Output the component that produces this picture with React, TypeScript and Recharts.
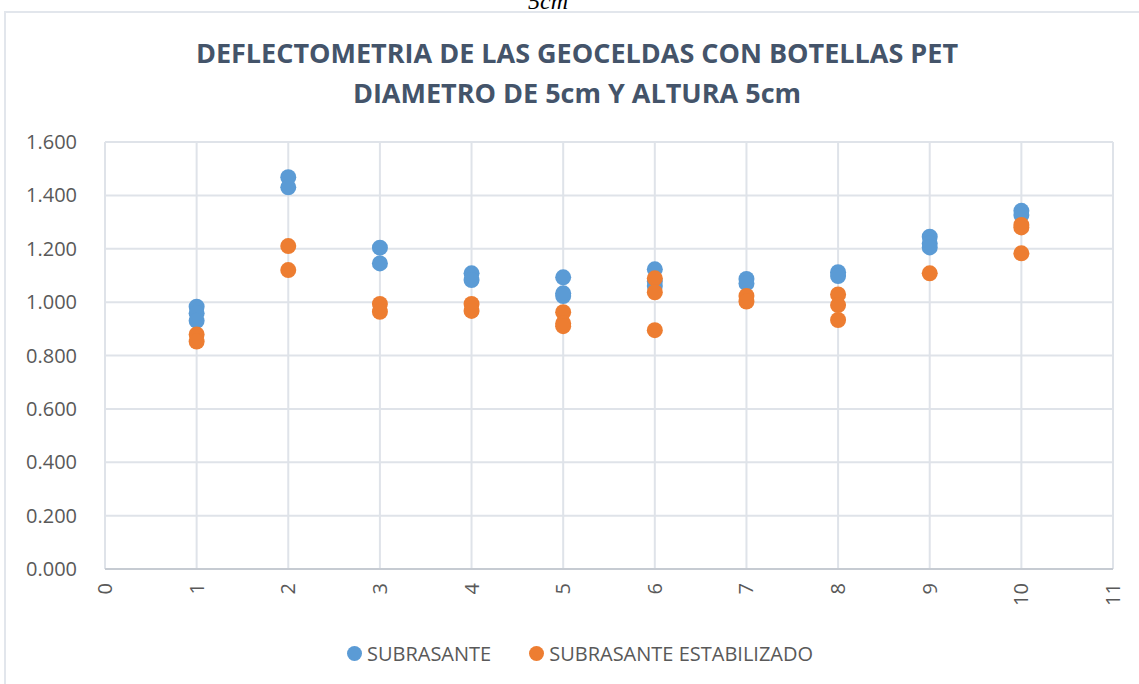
import { ScatterChart, Scatter, XAxis, YAxis, CartesianGrid } from 'recharts'

// ensayo (punto) y deflexion
const subrasanteX = [1, 1, 1, 2, 2, 3, 3, 4, 4, 5, 5, 5, 6, 6, 6, 7, 7, 8, 8, 9, 9, 9, 10, 10]
const subrasanteY = [
  0.983, 0.958, 0.93, 1.468, 1.43, 1.204, 1.145, 1.108, 1.083, 1.093, 1.033, 1.023,
  1.123, 1.077, 1.06, 1.087, 1.07, 1.112, 1.098, 1.245, 1.22, 1.205, 1.342, 1.326,
]

const estabilizadoX = [1, 1, 2, 2, 3, 3, 4, 4, 5, 5, 5, 6, 6, 6, 7, 7, 8, 8, 8, 9, 10, 10, 10]
const estabilizadoY = [
  0.879, 0.852, 1.21, 1.12, 0.993, 0.964, 0.993, 0.967, 0.962, 0.92, 0.91,
  1.089, 1.037, 0.895, 1.023, 1.002, 1.029, 0.989, 0.933, 1.108, 1.289, 1.28, 1.183,
]

const xTicks = [0, 1, 2, 3, 4, 5, 6, 7, 8, 9, 10, 11]
const yTicks = [0, 0.2, 0.4, 0.6, 0.8, 1.0, 1.2, 1.4, 1.6]

const BLUE = '#5B9BD5'
const ORANGE = '#ED7D31'
const FONT = "'Liberation Sans Narrow', 'Open Sans', sans-serif"

const subrasante = subrasanteX.map((x, i) => ({ x, y: subrasanteY[i] }))
const estabilizado = estabilizadoX.map((x, i) => ({ x, y: estabilizadoY[i] }))

// eslint-disable-next-line @typescript-eslint/no-explicit-any
function RotatedTick(props: any) {
  const { x, y, payload } = props
  return (
    <text
      x={x}
      y={y + 6}
      transform={`rotate(-90, ${x}, ${y + 6})`}
      textAnchor="end"
      dy="0.35em"
      fill="#595959"
      fontSize={20}
      fontFamily={FONT}
    >
      {payload.value}
    </text>
  )
}

// eslint-disable-next-line @typescript-eslint/no-explicit-any
function Dot(props: any) {
  const { cx, cy, fill } = props
  return <circle cx={cx} cy={cy} r={8} fill={fill} />
}

export default function App() {
  return (
    <div style={{ position: 'absolute', left: 0, top: 0, width: 1139, height: 684, background: '#fff', overflow: 'hidden' }}>
      {/* caption of the document above, cut by the page edge */}
      <div
        style={{
          position: 'absolute', left: 0, width: 1096, top: -12, textAlign: 'center',
          fontFamily: "'Liberation Serif', serif", fontStyle: 'italic', fontSize: 24, color: '#000',
        }}
      >
        5cm
      </div>
      {/* chart frame */}
      <div
        style={{
          position: 'absolute', left: 4, top: 11, width: 1160, height: 700,
          border: '2px solid #e2e6ec', boxSizing: 'border-box',
        }}
      />
      <div
        style={{
          position: 'absolute', left: 0, width: 1154, top: 33, textAlign: 'center',
          fontFamily: FONT, fontWeight: 'bold', fontSize: 27, lineHeight: '40px', color: '#44546A',
        }}
      >
        DEFLECTOMETRIA DE LAS GEOCELDAS CON BOTELLAS PET
        <br />
        DIAMETRO DE 5cm Y ALTURA 5cm
      </div>
      <div style={{ position: 'absolute', left: 0, top: 0 }}>
        <ScatterChart width={1139} height={684} margin={{ top: 142, right: 26, bottom: 0, left: 10 }}>
          <CartesianGrid stroke="#dfe3e9" strokeWidth={2} horizontal vertical />
          <XAxis
            type="number"
            dataKey="x"
            domain={[0, 11]}
            ticks={xTicks}
            interval={0}
            height={115}
            stroke="#c6cbd2"
            strokeWidth={2}
            tickLine={false}
            tick={<RotatedTick />}
          />
          <YAxis
            type="number"
            dataKey="y"
            domain={[0, 1.6]}
            ticks={yTicks}
            interval={0}
            width={95}
            axisLine={false}
            tickLine={false}
            tickMargin={22}
            tickFormatter={(v: number) => v.toFixed(3)}
            tick={{ fill: '#595959', fontSize: 20, fontFamily: FONT }}
          />
          <Scatter name="SUBRASANTE" data={subrasante} fill={BLUE} shape={<Dot />} isAnimationActive={false} />
          <Scatter name="SUBRASANTE ESTABILIZADO" data={estabilizado} fill={ORANGE} shape={<Dot />} isAnimationActive={false} />
        </ScatterChart>
      </div>
      {/* legend */}
      <div
        style={{
          position: 'absolute', left: 0, width: 1160, top: 640, display: 'flex', justifyContent: 'center',
          alignItems: 'center', gap: 38, fontFamily: FONT, fontSize: 20, color: '#595959',
        }}
      >
        <span style={{ display: 'flex', alignItems: 'center', gap: 5 }}>
          <span style={{ width: 15, height: 15, borderRadius: '50%', background: BLUE, display: 'inline-block' }} />
          SUBRASANTE
        </span>
        <span style={{ display: 'flex', alignItems: 'center', gap: 5 }}>
          <span style={{ width: 15, height: 15, borderRadius: '50%', background: ORANGE, display: 'inline-block' }} />
          SUBRASANTE ESTABILIZADO
        </span>
      </div>
    </div>
  )
}
